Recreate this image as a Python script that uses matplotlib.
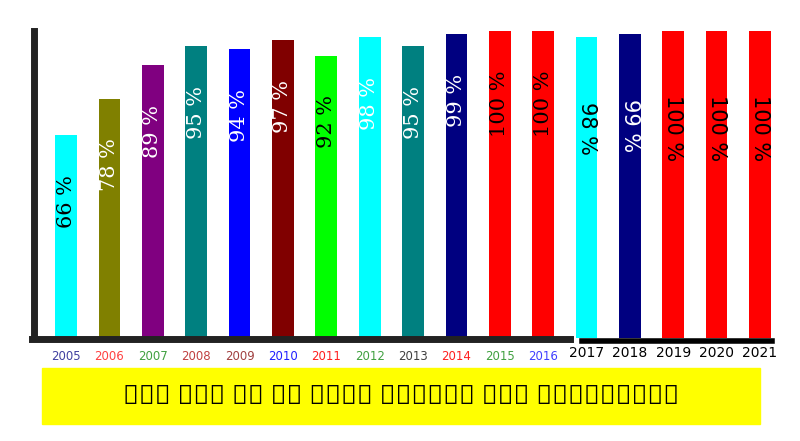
import matplotlib
matplotlib.use("Agg")
import matplotlib.pyplot as plt
from matplotlib.patches import Rectangle

years = ["2005","2006","2007","2008","2009","2010","2011","2012","2013","2014","2015","2016","2017","2018","2019","2020","2021"]
values = [66, 78, 89, 95, 94, 97, 92, 98, 95, 99, 100, 100, 98, 99, 100, 100, 100]
bar_colors = ["#00ffff","#808000","#800080","#008080","#0000ff","#800000","#00ff00","#00ffff","#008080","#000080","#ff0000","#ff0000","#00ffff","#000080","#ff0000","#ff0000","#ff0000"]
label_colors = ["black","white","white","white","white","white","black","white","white","white","black","black","black","white","black","black","black"]
year_colors = ["#4040a0","#ff4040","#40a040","#c04040","#a04040","#2020ff","#ff2020","#40a040","#404040","#ff2020","#40a040","#4040ff"]
title = "എസ് എസ് എൽ സി വിജയ ശതമാനം മുൻ വർഷങ്ങളിൽ"

fig = plt.figure(figsize=(8, 4.41), dpi=100)
ax = fig.add_axes([34/800, 1-338/441, 739/800, 307/441])
x = list(range(len(years)))
ax.bar(x, values, width=0.5, color=bar_colors)
ax.set_xlim(-0.74, 16.3)
ax.set_ylim(0, 100)
for s in ["top", "right", "bottom"]:
    ax.spines[s].set_visible(False)
ax.spines["left"].set_linewidth(5)
ax.spines["left"].set_color("#222")
ax.set_xticks([]); ax.set_yticks([])

for i, (v, lc) in enumerate(zip(values, label_colors)):
    if i < 12:
        ax.text(i, v - 13, f"{v} %", rotation=90, ha="center", va="top",
                color=lc, fontsize=15, family="DejaVu Serif")
        ax.text(i, -4, years[i], ha="center", va="top", color=year_colors[i],
                fontsize=8.5, family="Liberation Sans Narrow", clip_on=False)
    else:
        ax.text(i, v - 21, f"{v} %", rotation=270, ha="center", va="top",
                color=lc, fontsize=15, family="DejaVu Sans")
        ax.text(i, -2.5, years[i], ha="center", va="top", color="black",
                fontsize=10, family="DejaVu Sans", clip_on=False)

fig.add_artist(plt.Line2D([32/800, 570/800], [1-339/441]*2, color="#222", lw=5))
fig.add_artist(plt.Line2D([582/800, 772/800], [1-341/441]*2, color="black", lw=4))

fig.add_artist(Rectangle((42/800, 1-424/441), 718/800, 56/441, color="#ffff00",
                         transform=fig.transFigure))
fig.text(401/800, 1-397/441, title, ha="center", va="center", fontsize=19,
         fontweight="bold", family=["Noto Sans", "DejaVu Sans"])

fig.savefig("out.png", dpi=100)
